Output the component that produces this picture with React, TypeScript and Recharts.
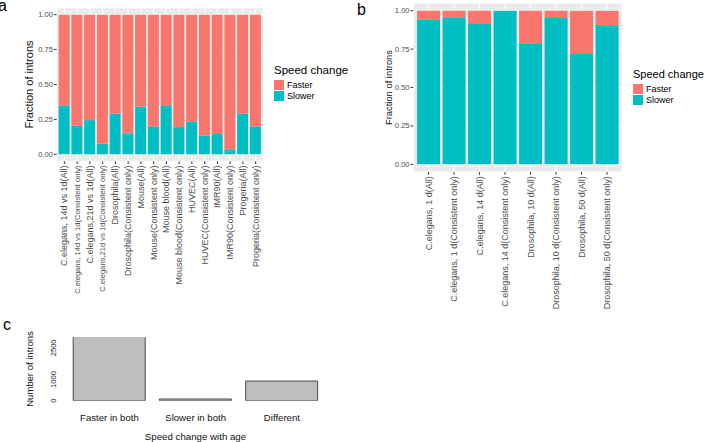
import React from "react";
import { BarChart, Bar, XAxis, YAxis, CartesianGrid, Legend } from "recharts";

const FONT = "'Liberation Sans', Arial, Helvetica, sans-serif";
const FASTER_COLOR = "#F8766D";
const SLOWER_COLOR = "#00BFC4";
const PANEL_BG = "#EBEBEB";
const TICK_TEXT = "#4D4D4D";
const TICK_LINE = "#333333";

// panel a: fraction of introns per dataset
const aLabels = [
  "C.elegans, 14d vs 1d(All)",
  "C.elegans, 14d vs 1d(Consistent only)",
  "C.elegans,21d vs 1d(All)",
  "C.elegans,21d vs 1d(Consistent only)",
  "Drosophila(All)",
  "Drosophila(Consistent only)",
  "Mouse(All)",
  "Mouse(Consistent only)",
  "Mouse blood(All)",
  "Mouse blood(Consistent only)",
  "HUVEC(All)",
  "HUVEC(Consistent only)",
  "IMR90(All)",
  "IMR90(Consistent only)",
  "Progeria(All)",
  "Progeria(Consistent only)",
];
const aSlower = [0.35, 0.205, 0.245, 0.075, 0.29, 0.15, 0.34, 0.2, 0.35, 0.195, 0.235, 0.135, 0.145, 0.035, 0.29, 0.2];
const aFaster = [0.65, 0.795, 0.755, 0.925, 0.71, 0.85, 0.66, 0.8, 0.65, 0.805, 0.765, 0.865, 0.855, 0.965, 0.71, 0.8];

// panel b
const bLabels = [
  "C.elegans, 1 d(All)",
  "C.elegans, 1 d(Consistent only)",
  "C.elegans, 14 d(All)",
  "C.elegans, 14 d(Consistent only)",
  "Drosophila, 10 d(All)",
  "Drosophila, 10 d(Consistent only)",
  "Drosophila, 50 d(All)",
  "Drosophila, 50 d(Consistent only)",
];
const bSlower = [0.94, 0.957, 0.913, 1.0, 0.783, 0.952, 0.718, 0.9];
const bFaster = [0.06, 0.043, 0.087, 0.0, 0.217, 0.048, 0.282, 0.1];

const fractionTicks = [0, 0.25, 0.5, 0.75, 1];

// panel c: number of introns
const cLabels = ["Faster in both", "Slower in both", "Different"];
const cCounts = [3030, 80, 930];
const cTickMarks = [0, 500, 1000, 1500, 2000, 2500, 3000];
const cTickLabels = [0, 1000, 2500];

const aData = aLabels.map((name, i) => ({ name, slower: aSlower[i], faster: aFaster[i] }));
const bData = bLabels.map((name, i) => ({ name, slower: bSlower[i], faster: bFaster[i] }));
const cData = cLabels.map((name, i) => ({ name, count: cCounts[i] }));

function RotatedTick(props: any) {
  const { x, y, payload, fs } = props;
  const label = String(payload.value);
  const size = fs ?? (label.length > 32 ? 7.6 : 9);
  return (
    <text
      x={x}
      y={y}
      transform={`rotate(-90 ${x} ${y})`}
      textAnchor="end"
      dominantBaseline="central"
      fontSize={size}
      fontFamily={FONT}
      fill={TICK_TEXT}
    >
      {label}
    </text>
  );
}

function FractionTick(props: any) {
  const { x, y, payload } = props;
  return (
    <text x={x} y={y} textAnchor="end" dominantBaseline="central" fontSize={7.6} fontFamily={FONT} fill={TICK_TEXT}>
      {Number(payload.value).toFixed(2)}
    </text>
  );
}

function CountTick(props: any) {
  const { x, y, payload } = props;
  const tx = x - 0.5;
  return (
    <text x={tx} y={y} transform={`rotate(-90 ${tx} ${y})`} textAnchor="middle" fontSize={7.6} fontFamily={FONT} fill="#222">
      {payload.value}
    </text>
  );
}

function CategoryTick(props: any) {
  const { x, y, payload } = props;
  return (
    <text x={x} y={y} textAnchor="middle" dominantBaseline="central" fontSize={9.6} fontFamily={FONT} fill="#111">
      {payload.value}
    </text>
  );
}

function VerticalTitle(props: any) {
  const { viewBox, title, px, fs } = props;
  const cy = viewBox ? viewBox.y + viewBox.height / 2 : 0;
  return (
    <text
      x={px}
      y={cy}
      transform={`rotate(-90 ${px} ${cy})`}
      textAnchor="middle"
      dominantBaseline="central"
      fontSize={fs}
      fontFamily={FONT}
      fill="#111"
    >
      {title}
    </text>
  );
}

function HorizontalTitle(props: any) {
  const { title, px, py, fs } = props;
  return (
    <text x={px} y={py} textAnchor="middle" dominantBaseline="central" fontSize={fs} fontFamily={FONT} fill="#111">
      {title}
    </text>
  );
}

function SpeedLegend(props: any) {
  const { payload, titleSize } = props;
  const order = ["Faster", "Slower"];
  const items = [...(payload || [])].sort((p: any, q: any) => order.indexOf(p.value) - order.indexOf(q.value));
  return (
    <div style={{ fontFamily: FONT, color: "#000" }}>
      <div style={{ fontSize: titleSize, lineHeight: "13px", marginBottom: 3.5, whiteSpace: "nowrap" }}>Speed change</div>
      {items.map((item: any) => (
        <div key={item.value} style={{ display: "flex", alignItems: "center", height: 10.6 }}>
          <div style={{ width: 10, height: 10, background: item.color, marginRight: 3 }} />
          <span style={{ fontSize: 9, lineHeight: "10px" }}>{item.value}</span>
        </div>
      ))}
    </div>
  );
}

function FractionPanel(props: any) {
  const { data, width, margin, yWidth, xHeight, pad, titleX, titleSize, legendPos, legendTitleSize, tickSize } = props;
  return (
    <BarChart width={width} height={315} data={data} margin={margin} barCategoryGap="5%">
      <CartesianGrid fill={PANEL_BG} stroke="#FFFFFF" strokeWidth={1} />
      <XAxis
        dataKey="name"
        interval={0}
        height={xHeight}
        axisLine={false}
        tickLine={{ stroke: TICK_LINE }}
        tickSize={2.7}
        tickMargin={1.5}
        padding={{ left: pad, right: pad }}
        tick={(p: any) => <RotatedTick {...p} fs={tickSize} />}
      />
      <YAxis
        type="number"
        domain={[-0.05, 1.05]}
        ticks={fractionTicks}
        interval={0}
        width={yWidth}
        axisLine={false}
        tickLine={{ stroke: TICK_LINE }}
        tickSize={2.7}
        tickMargin={1}
        tick={(p: any) => <FractionTick {...p} />}
        label={<VerticalTitle title="Fraction of introns" px={titleX} fs={titleSize} />}
      />
      <Legend
        layout="vertical"
        align="center"
        verticalAlign="middle"
        wrapperStyle={{ left: legendPos[0], top: legendPos[1], width: 80 }}
        content={(p: any) => <SpeedLegend payload={p.payload} titleSize={legendTitleSize} />}
      />
      <Bar dataKey="slower" name="Slower" stackId="speed" fill={SLOWER_COLOR} isAnimationActive={false} />
      <Bar dataKey="faster" name="Faster" stackId="speed" fill={FASTER_COLOR} isAnimationActive={false} />
    </BarChart>
  );
}

export default function App() {
  return (
    <div
      style={{
        position: "absolute",
        left: 0,
        top: 0,
        width: 707,
        height: 442,
        background: "#FFFFFF",
        overflow: "hidden",
        fontFamily: FONT,
      }}
    >
      <svg width={707} height={442} style={{ position: "absolute", left: 0, top: 0 }}>
        <text x={-2} y={10.7} fontSize={16} fontFamily={FONT} fill="#000">a</text>
        <text x={357} y={15} fontSize={16} fontFamily={FONT} fill="#000">b</text>
        <text x={3} y={330} fontSize={16} fontFamily={FONT} fill="#000">c</text>
      </svg>

      <div style={{ position: "absolute", left: 0, top: 0 }}>
        <FractionPanel
          data={aData}
          width={360}
          margin={{ top: 7.7, right: 96.7, bottom: 0, left: 0 }}
          yWidth={56.7}
          xHeight={153.7}
          pad={1.3}
          titleX={29}
          titleSize={11}
          legendPos={[274, 63.5]}
          legendTitleSize={11.5}
        />
      </div>

      <div style={{ position: "absolute", left: 340, top: 0 }}>
        <FractionPanel
          data={bData}
          width={367}
          margin={{ top: 3, right: 84.7, bottom: 0, left: 0 }}
          yWidth={73.3}
          xHeight={143}
          pad={2.5}
          titleX={48}
          titleSize={9.4}
          legendPos={[293, 67.5]}
          legendTitleSize={11}
          tickSize={9}
        />
      </div>

      <div style={{ position: "absolute", left: 0, top: 300 }}>
        <BarChart width={360} height={142} data={cData} margin={{ top: 37.3, right: 35, bottom: 0, left: 0 }} barCategoryGap="8%">
          <XAxis
            dataKey="name"
            interval={0}
            height={41.3}
            axisLine={false}
            tickLine={false}
            tickSize={0}
            tickMargin={16.3}
            padding={{ left: 4, right: 0 }}
            tick={(p: any) => <CategoryTick {...p} />}
            label={<HorizontalTitle title="Speed change with age" px={195.5} py={136} fs={9.7} />}
          />
          <YAxis
            yAxisId="marks"
            type="number"
            domain={[0, 3000]}
            ticks={cTickMarks}
            interval={0}
            minTickGap={0}
            allowDataOverflow
            width={0}
            axisLine={{ stroke: "#444" }}
            tickLine={{ stroke: "#444" }}
            tickSize={3.3}
            tickFormatter={() => ""}
          />
          <YAxis
            yAxisId="count"
            type="number"
            domain={[0, 3000]}
            ticks={cTickLabels}
            interval={0}
            minTickGap={0}
            allowDataOverflow
            width={62.3}
            axisLine={false}
            tickLine={false}
            tickSize={3.3}
            tickMargin={2}
            tick={(p: any) => <CountTick {...p} />}
            label={<VerticalTitle title="Number of introns" px={29.5} fs={9.5} />}
          />
          <Bar yAxisId="count" dataKey="count" fill="#BEBEBE" stroke="#4A4A4A" strokeWidth={1} isAnimationActive={false} />
        </BarChart>
      </div>
    </div>
  );
}
